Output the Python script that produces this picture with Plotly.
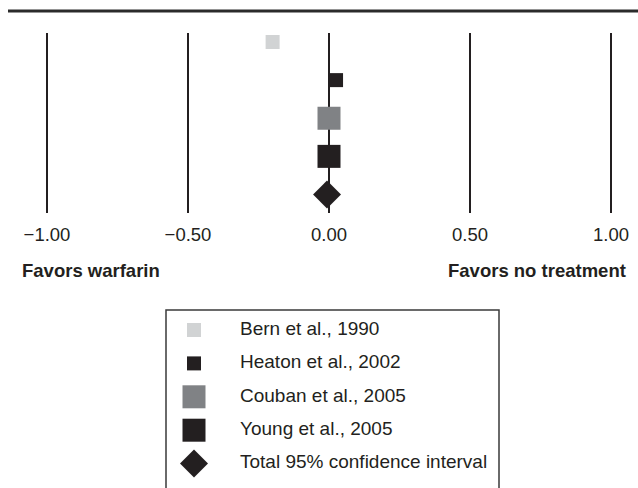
import plotly.graph_objects as go

# ---- data ----
studies = ["Bern et al., 1990", "Heaton et al., 2002", "Couban et al., 2005",
           "Young et al., 2005", "Total 95% confidence interval"]
effects = [-0.20, 0.025, 0.0, 0.0, -0.007]
tick_vals = [-1.0, -0.5, 0.0, 0.5, 1.0]
left_label = "Favors warfarin"
right_label = "Favors no treatment"

# ---- styles ----
colors = ["#d1d3d4", "#231f20", "#808285", "#231f20", "#231f20"]
symbols = ["square", "square", "square", "square", "diamond"]
sizes = [14, 14, 23, 23, 21.5]

W, H = 638, 488
FONT = "Liberation Sans, Arial, Helvetica, sans-serif"
FS = 18.5
INK = "#231f20"

# pixel helpers for layout
def px_x(p):
    return p / W

def px_y(p):
    return (H - p) / H

# main plot geometry: x=0 at 329 px, 282 px per unit
x0_px, unit_px = 329.0, 282.0
x_range = [-x0_px / unit_px, (W - x0_px) / unit_px]

# rows: first row at 42 px, last at 194.5 px; plot spans 33..213 px
row_top, row_bot = 42.0, 194.5
step = (row_bot - row_top) / (len(studies) - 1)
y_range = [(213 - row_top) / step, (33 - row_top) / step]

fig = go.Figure()

for i, s in enumerate(studies):
    fig.add_trace(go.Scatter(
        x=[effects[i]], y=[s], mode="markers",
        marker=dict(symbol=symbols[i], size=sizes[i], color=colors[i],
                    line=dict(width=0)),
        name=s, showlegend=False, xaxis="x", yaxis="y",
        hovertemplate="%{y}: %{x:.2f}<extra></extra>",
    ))

# manual legend in a second pair of axes
lg_left, lg_right, lg_top = 166, 499, 310
mark_px, text_px = 194.0, 240.0
lunit = text_px - mark_px
x2_range = [(lg_left - mark_px) / lunit, (lg_right - mark_px) / lunit]
lrow0, lstep = 330.0, 33.4
y2_range = [(H - lrow0) / lstep, (lg_top - lrow0) / lstep]

for i, s in enumerate(studies):
    fig.add_trace(go.Scatter(
        x=[0], y=[s], mode="markers",
        marker=dict(symbol=symbols[i], size=sizes[i], color=colors[i],
                    line=dict(width=0)),
        showlegend=False, xaxis="x2", yaxis="y2", hoverinfo="skip",
    ))
fig.add_trace(go.Scatter(
    x=[1] * len(studies), y=studies, mode="text", text=studies,
    textposition="middle right",
    textfont=dict(family=FONT, size=19, color=INK),
    showlegend=False, xaxis="x2", yaxis="y2", hoverinfo="skip",
))

fig.update_layout(
    width=W, height=H,
    margin=dict(l=0, r=0, t=0, b=0),
    paper_bgcolor="white", plot_bgcolor="white",
    font=dict(family=FONT, size=FS, color=INK),
    xaxis=dict(
        domain=[0, 1], range=x_range, tickvals=tick_vals, tickformat=".2f",
        showgrid=True, gridcolor=INK, gridwidth=1.5, zeroline=False,
        showline=False, ticks="", ticklabelstandoff=8,
        tickfont=dict(family=FONT, size=FS, color=INK),
        anchor="y", fixedrange=True,
    ),
    yaxis=dict(
        domain=[px_y(213), px_y(33)], type="category", categoryarray=studies,
        range=y_range, showgrid=False, zeroline=False, showline=False,
        showticklabels=False, ticks="", fixedrange=True,
    ),
    xaxis2=dict(
        domain=[px_x(lg_left), px_x(lg_right)], range=x2_range, visible=False,
        anchor="y2", fixedrange=True,
    ),
    yaxis2=dict(
        domain=[0, px_y(lg_top)], type="category", categoryarray=studies,
        range=y2_range, visible=False, anchor="x2", fixedrange=True,
    ),
    shapes=[
        dict(type="line", xref="paper", yref="paper",
             x0=px_x(8), x1=1, y0=px_y(11), y1=px_y(11),
             line=dict(color="#2b2b2b", width=3)),
        dict(type="rect", xref="paper", yref="paper",
             x0=px_x(lg_left), x1=px_x(lg_right), y0=-0.05, y1=px_y(lg_top),
             line=dict(color="#3a3a3a", width=1.5), fillcolor="rgba(0,0,0,0)"),
    ],
    annotations=[
        dict(text="<b>" + left_label + "</b>", xref="paper", yref="paper",
             x=px_x(20), y=px_y(270), xanchor="left", yanchor="middle",
             showarrow=False, font=dict(family=FONT, size=FS, color=INK)),
        dict(text="<b>" + right_label + "</b>", xref="paper", yref="paper",
             x=px_x(628), y=px_y(270), xanchor="right", yanchor="middle",
             showarrow=False, font=dict(family=FONT, size=FS, color=INK)),
    ],
)

fig.write_html("out.html", config={"displayModeBar": False},
               post_script="document.body.style.margin='0';")
